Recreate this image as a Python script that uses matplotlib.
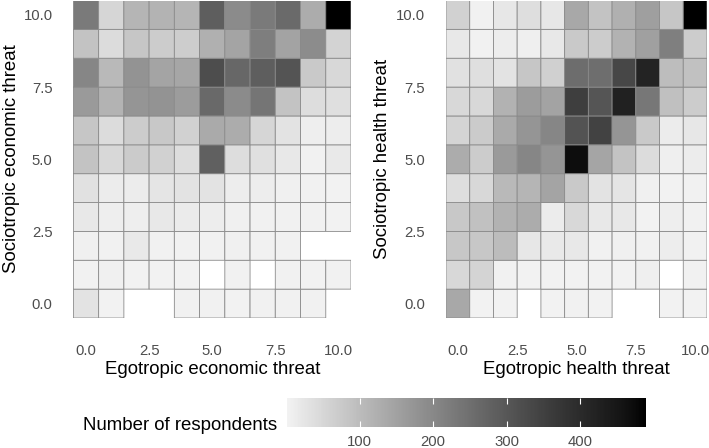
import numpy as np
import matplotlib
matplotlib.use("Agg")
import matplotlib.pyplot as plt
from matplotlib.colors import ListedColormap, Normalize

plt.rcParams['font.family'] = ['Liberation Sans', 'DejaVu Sans']

nan = np.nan
levels = list(range(11))
xtick_vals = [0, 2.5, 5, 7.5, 10]
xtick_labels = ["0.0", "2.5", "5.0", "7.5", "10.0"]
cbar_ticks = [100, 200, 300, 400]

# rows listed from sociotropic = 10 (top) down to 0 (bottom); columns egotropic 0..10
economic_counts = [
    [227, 52, 112, 116, 112, 285, 195, 227, 260, 129, 490],
    [87, 43, 82, 71, 69, 122, 146, 219, 148, 191, 58],
    [205, 106, 177, 146, 141, 320, 268, 285, 308, 76, 47],
    [165, 116, 173, 177, 160, 262, 195, 239, 87, 40, 36],
    [82, 43, 71, 78, 62, 133, 129, 52, 29, 10, 11],
    [87, 47, 72, 62, 40, 280, 40, 34, 19, 3, 17],
    [32, 13, 13, 25, 29, 29, 11, 11, 6, 3, 2],
    [19, 9, 9, 19, 15, 11, 6, 4, 4, 3, 2],
    [6, 3, 17, 4, 4, 3, 6, 4, 3, nan, nan],
    [3, 6, 2, 2, 1, nan, 3, nan, 3, 2, 3],
    [29, 1, nan, nan, 3, 3, 1, 4, 3, 3, nan],
]
health_counts = [
    [62, 4, 22, 38, 22, 137, 87, 122, 154, 82, 490],
    [19, 4, 11, 8, 19, 76, 71, 118, 152, 217, 71],
    [32, 36, 29, 82, 64, 254, 252, 336, 420, 97, 91],
    [47, 47, 118, 160, 148, 355, 304, 425, 233, 93, 71],
    [56, 72, 133, 173, 205, 310, 346, 173, 76, 13, 22],
    [129, 71, 165, 205, 173, 470, 143, 87, 43, 8, 13],
    [38, 47, 106, 112, 146, 76, 29, 24, 6, 1, 4],
    [78, 91, 118, 129, 13, 47, 19, 19, 2, 10, 4],
    [80, 80, 99, 22, 17, 19, 4, 6, 4, 11, 4],
    [47, 56, 4, 1, 2, 2, 2, 2, 8, nan, 4],
    [137, 2, 2, nan, 2, 4, 2, nan, nan, 2, 2],
]

# grey gradient interpolated in CIELAB lightness (grey95 -> black)
def lab_grey(L):
    L = np.asarray(L, float)
    Y = np.where(L > 8, ((L + 16) / 116) ** 3, L / 903.3)
    g = np.where(Y <= 0.0031308, 12.92 * Y, 1.055 * Y ** (1 / 2.4) - 0.055)
    return np.clip(g, 0, 1)

Ls = np.linspace(95.5, 0, 256)
gs = lab_grey(Ls)
cmap = ListedColormap(np.column_stack([gs, gs, gs, np.ones_like(gs)]))
norm = Normalize(vmin=1, vmax=490)

W, H = 709, 448
fig = plt.figure(figsize=(W / 100, H / 100), dpi=100)

def px_axes(x0, y0, x1, y1):
    return fig.add_axes([x0 / W, 1 - y1 / H, (x1 - x0) / W, (y1 - y0) / H])

edges = np.arange(-0.5, 11.5, 1.0)
tick_col = '#4d4d4d'

panels = [
    (economic_counts, (73.4, 0.5, 351, 318), "Egotropic economic threat", "Sociotropic economic threat", 12),
    (health_counts, (446, 0.5, 707, 318), "Egotropic health threat", "Sociotropic health threat", 382),
]
mesh = None
for counts, box, xlab, ylab, ytx in panels:
    ax = px_axes(*box)
    Z = np.ma.masked_invalid(np.flipud(np.array(counts, float)))
    mesh = ax.pcolor(edges, edges, Z, cmap=cmap, norm=norm,
                     edgecolors='#8a8a8a', linewidth=0.6)
    ax.set_xlim(-0.5, 10.5)
    ax.set_ylim(-0.5, 10.5)
    for s in ax.spines.values():
        s.set_visible(False)
    ax.set_xticks(xtick_vals)
    ax.set_xticklabels(xtick_labels)
    ax.set_yticks(xtick_vals)
    ax.set_yticklabels(xtick_labels)
    ax.tick_params(axis='both', length=0, labelsize=10.7, labelcolor=tick_col)
    ax.tick_params(axis='x', pad=19)
    ax.tick_params(axis='y', pad=15)
    cx = (box[0] + box[2]) / 2
    fig.text(cx / W, 1 - 370 / H, xlab, ha='center', va='center', fontsize=13.4)
    fig.text(ytx / W, 1 - 159 / H, ylab, ha='center', va='center',
             rotation=90, fontsize=13.4)

cax = px_axes(287, 398, 646, 427)
cb = fig.colorbar(mesh, cax=cax, orientation='horizontal', ticks=cbar_ticks)
cb.outline.set_visible(False)
cax.tick_params(axis='x', direction='in', color='white', length=4.2, width=0.8,
                top=True, bottom=True, labeltop=False, labelbottom=True,
                labelsize=10.7, labelcolor=tick_col, pad=6)
fig.text(83 / W, 1 - 425 / H, "Number of respondents", ha='left', va='center',
         fontsize=13.4)

fig.savefig("out.png", dpi=100)
